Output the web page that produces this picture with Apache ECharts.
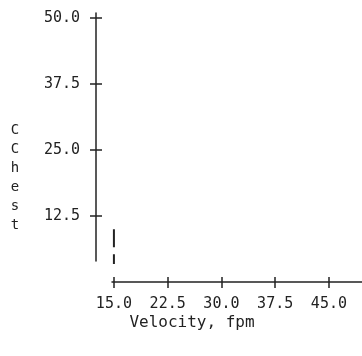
<!DOCTYPE html>
<html>
<head>
<meta charset="utf-8">
<script src="https://cdn.jsdelivr.net/npm/echarts@6/dist/echarts.min.js"></script>
<style>html,body{margin:0;padding:0;background:#fff}#c{width:362px;height:356px}</style>
</head>
<body>
<div id="c"></div>
<script>
const xTicks = [15.0, 22.5, 30.0, 37.5, 45.0];
const yTicks = [12.5, 25.0, 37.5, 50.0];
const velocity = [15.0, 15.0];
const cchest = [10.0, 3.4];
const xTitle = 'Velocity, fpm';
const yTitle = 'CChest';

const ink = '#222';
const font = 'DejaVu Sans Mono';
const pts = velocity.map((v, i) => [v, cchest[i]]);
const fmt = v => Number(v).toFixed(1);

const chart = echarts.init(document.getElementById('c'), null, {renderer: 'canvas'});
const hidden = {show: false};
function xAx(grid, extra) {
  return Object.assign({type: 'value', gridIndex: grid, position: 'bottom', min: 12.5, max: 52.5, splitLine: hidden,
    axisLine: hidden, axisTick: hidden, axisLabel: hidden}, extra);
}
function yAx(grid, extra) {
  return Object.assign({type: 'value', gridIndex: grid, position: 'left', min: 0, max: 50, splitLine: hidden,
    axisLine: hidden, axisTick: hidden, axisLabel: hidden}, extra);
}
chart.setOption({
  animation: false,
  grid: [
    {left: 96, top: 18, width: 286.67, height: 264, outerBoundsMode: 'none', containLabel: false},
    {left: 112, top: 13, width: 280, height: 269, outerBoundsMode: 'none', containLabel: false},
    {left: 96, top: 13, width: 100, height: 248, outerBoundsMode: 'none', containLabel: false}
  ],
  xAxis: [
    xAx(0, {axisTick: {show: true, length: 6, customValues: xTicks, lineStyle: {color: ink, width: 1.5}},
      axisLabel: {show: true, customValues: xTicks, formatter: fmt, margin: 15,
        fontFamily: font, fontSize: 15, color: ink}}),
    xAx(0, {axisTick: {show: true, inside: true, length: 5, customValues: xTicks, lineStyle: {color: ink, width: 1.5}}}),
    xAx(1, {axisLine: {show: true, onZero: false, lineStyle: {color: ink, width: 1.5}}}),
    xAx(2, {})
  ],
  yAxis: [
    yAx(0, {axisTick: {show: true, length: 6, customValues: yTicks, lineStyle: {color: ink, width: 1.5}},
      axisLabel: {show: true, customValues: yTicks, formatter: fmt, margin: 16,
        fontFamily: font, fontSize: 15, color: ink}}),
    yAx(0, {axisTick: {show: true, inside: true, length: 6, customValues: yTicks, lineStyle: {color: ink, width: 1.5}}}),
    yAx(1, {}),
    yAx(2, {axisLine: {show: true, onZero: false, lineStyle: {color: ink, width: 1.5}}})
  ],
  graphic: [
    {type: 'text', x: 15, y: 121, style: {text: yTitle.split('').join('\n'), fontFamily: font, fontSize: 14,
      lineHeight: 19, fill: ink, align: 'center', verticalAlign: 'top'}},
    {type: 'text', x: 192, y: 323, style: {text: xTitle, fontFamily: font, fontSize: 16,
      fill: ink, align: 'center', verticalAlign: 'middle'}}
  ],
  series: [{
    type: 'line', xAxisIndex: 0, yAxisIndex: 0, data: pts, symbol: 'none', clip: false,
    lineStyle: {color: ink, width: 2, type: [18, 7]}
  }]
});
</script>
</body>
</html>
